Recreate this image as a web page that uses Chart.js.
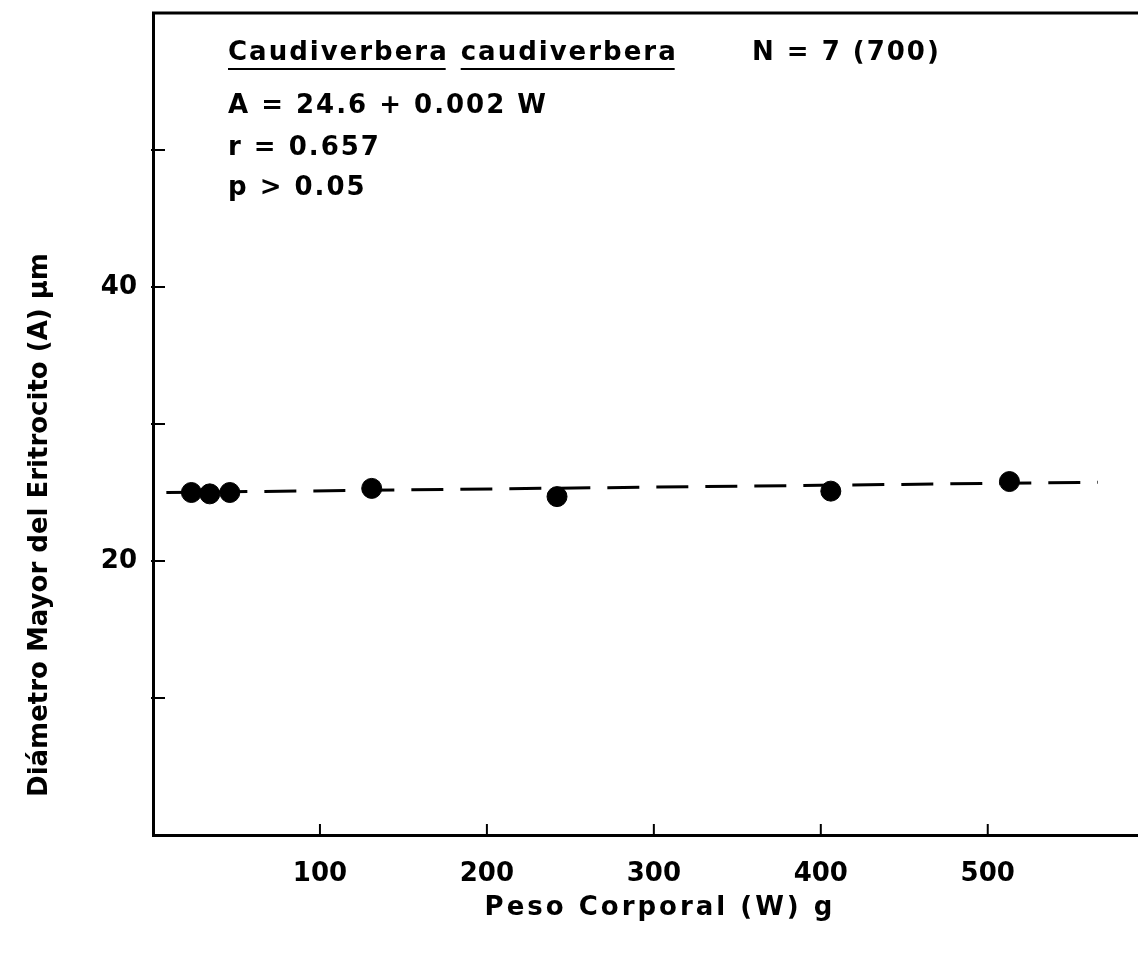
<!DOCTYPE html>
<html>
<head>
<meta charset="utf-8">
<script src="https://cdn.jsdelivr.net/npm/chart.js@4/dist/chart.umd.min.js"></script>
<style>
  html, body { margin: 0; padding: 0; background: #fff; }
  #wrap { width: 1138px; height: 955px; }
</style>
</head>
<body>
<div id="wrap"><canvas id="chart"></canvas></div>
<script>
// body weight (g) and major erythrocyte diameter (µm)
const pesoW = [23, 34, 46, 131, 242, 406, 513];
const diametroA = [25.0, 24.9, 25.0, 25.3, 24.7, 25.1, 25.8];

// regression line ends
const rectaW = [8, 566];
const rectaA = [25.0, 25.75];

const xTicks = [100, 200, 300, 400, 500];
const yTicks = [10, 20, 30, 40, 50];
const yLabels = [20, 40];

const fontFam = '"DejaVu Sans", sans-serif';

const ctx = document.getElementById('chart');

// frame on top, inward ticks, text blocks and axis titles
const marco = {
    id: 'marco',
    afterDraw(chart) {
        const c = chart.ctx;
        const a = chart.chartArea;
        const xs = chart.scales.x, ys = chart.scales.y;
        c.save();
        c.strokeStyle = '#000';
        c.lineWidth = 3;
        c.beginPath();
        c.moveTo(a.left - 1, a.top);
        c.lineTo(a.right, a.top);
        c.stroke();

        c.lineWidth = 2;
        xTicks.forEach(v => {
            const px = xs.getPixelForValue(v);
            c.beginPath();
            c.moveTo(px, a.bottom);
            c.lineTo(px, a.bottom - 11);
            c.stroke();
        });
        yTicks.forEach(v => {
            const py = ys.getPixelForValue(v);
            c.beginPath();
            c.moveTo(a.left - 2, py);
            c.lineTo(a.left + 12, py);
            c.stroke();
        });

        c.fillStyle = '#000';
        c.font = 'bold 26px ' + fontFam;
        c.letterSpacing = '2px';
        c.textBaseline = 'middle';
        c.textAlign = 'left';

        const w1 = 'Caudiverbera';
        const w2 = 'caudiverbera';
        c.fillText(w1, 228, 53);
        const l1 = c.measureText(w1).width;
        const x2 = 228 + l1 + 12;
        c.fillText(w2, x2, 53);
        const l2 = c.measureText(w2).width;
        c.lineWidth = 2;
        c.beginPath();
        c.moveTo(228, 69); c.lineTo(228 + l1 - 3, 69);
        c.moveTo(x2, 69); c.lineTo(x2 + l2 - 3, 69);
        c.stroke();

        c.fillText('N = 7 (700)', 752, 53);
        c.fillText('A = 24.6 + 0.002 W', 228, 106);
        c.fillText('r = 0.657', 228, 148);
        c.fillText('p > 0.05', 228, 188);

        // axis titles
        c.font = 'bold 26px ' + fontFam;
        c.letterSpacing = '3px';
        c.textAlign = 'center';
        c.fillText('Peso Corporal (W) g', 660, 908);

        c.translate(40, 525);
        c.rotate(-Math.PI / 2);
        c.letterSpacing = '0px';
        c.fillText('Diámetro Mayor del Eritrocito (A) µm', 0, 0);
        c.restore();
    }
};

const fondo = {
    id: 'fondo',
    beforeDraw(chart) {
        const c = chart.ctx;
        c.save();
        c.fillStyle = '#fff';
        c.fillRect(0, 0, chart.width, chart.height);
        c.restore();
    }
};

new Chart(ctx, {
    type: 'scatter',
    data: {
        datasets: [{
            type: 'line',
            data: rectaW.map((w, i) => ({ x: w, y: rectaA[i] })),
            borderColor: '#000',
            borderWidth: 3,
            borderDash: [32, 17],
            pointRadius: 0,
            fill: false,
            order: 2
        }, {
            data: pesoW.map((w, i) => ({ x: w, y: diametroA[i] })),
            backgroundColor: '#000',
            borderColor: '#000',
            pointRadius: 10,
            pointHoverRadius: 10,
            order: 1
        }]
    },
    options: {
        responsive: true,
        maintainAspectRatio: false,
        animation: false,
        layout: { autoPadding: false, padding: { top: 13, right: 0, left: 0, bottom: 0 } },
        plugins: {
            legend: { display: false },
            tooltip: { enabled: false }
        },
        scales: {
            x: {
                type: 'linear',
                min: 0,
                max: 590,
                afterFit(s) { s.height = 120; s.paddingLeft = 0; s.paddingRight = 0; },
                afterBuildTicks(s) { s.ticks = xTicks.map(v => ({ value: v })); },
                grid: { display: false, drawTicks: false },
                border: { display: true, color: '#000', width: 3 },
                ticks: {
                    padding: 24,
                    color: '#000',
                    font: { size: 26, family: fontFam, weight: 'bold' }
                }
            },
            y: {
                type: 'linear',
                min: 0,
                max: 60,
                afterFit(s) { s.width = 153; s.paddingTop = 0; s.paddingBottom = 0; },
                afterBuildTicks(s) { s.ticks = yTicks.map(v => ({ value: v })); },
                grid: { display: false, drawTicks: false },
                border: { display: true, color: '#000', width: 3 },
                ticks: {
                    padding: 16,
                    color: '#000',
                    font: { size: 26, family: fontFam, weight: 'bold' },
                    callback: v => yLabels.includes(v) ? String(v) : ''
                }
            }
        }
    },
    plugins: [fondo, marco]
});
</script>
</body>
</html>
